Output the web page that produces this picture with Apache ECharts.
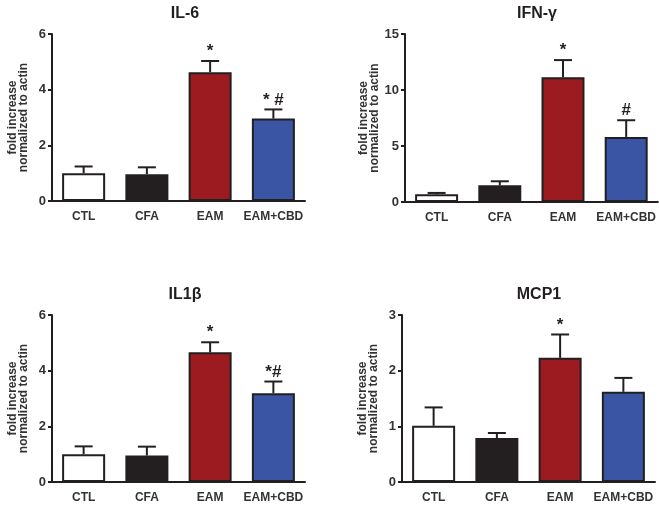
<!DOCTYPE html>
<html>
<head>
<meta charset="utf-8">
<script src="https://cdn.jsdelivr.net/npm/echarts@6/dist/echarts.min.js"></script>
<style>html,body{margin:0;padding:0;background:#fff;}#c{width:659px;height:506px;}</style>
</head>
<body>
<div id="c"></div>
<script>
var categories = ['CTL', 'CFA', 'EAM', 'EAM+CBD'];
var barColors = ['#ffffff', '#231f20', '#9b1b21', '#3a55a4'];

var titles = ['IL-6', 'IFN-\u03b3', 'IL1\u03b2', 'MCP1'];

var il6Mean = [1.00, 0.96, 4.63, 2.96];
var il6Sem = [0.24, 0.25, 0.40, 0.33];
var il6Marks = ['', '', '*', '* #'];

var ifnMean = [0.69, 1.49, 11.13, 5.81];
var ifnSem = [0.12, 0.36, 1.54, 1.49];
var ifnMarks = ['', '', '*', '#'];

var il1bMean = [1.00, 0.95, 4.66, 3.19];
var il1bSem = [0.28, 0.32, 0.36, 0.42];
var il1bMarks = ['', '', '*', '*#'];

var mcp1Mean = [1.01, 0.79, 2.23, 1.62];
var mcp1Sem = [0.33, 0.09, 0.42, 0.25];
var mcp1Marks = ['', '', '*', ''];

var yMax = [6, 15, 6, 3];
var yStep = [2, 5, 2, 1];

var panels = [
  {mean: il6Mean, sem: il6Sem, marks: il6Marks},
  {mean: ifnMean, sem: ifnSem, marks: ifnMarks},
  {mean: il1bMean, sem: il1bSem, marks: il1bMarks},
  {mean: mcp1Mean, sem: mcp1Sem, marks: mcp1Marks}
];

var FONT = 'Liberation Sans, Arial, Helvetica, sans-serif';
var INK = '#231f20';
var grids = [
  {left: 52, top: 34, width: 253, height: 167},
  {left: 405, top: 34, width: 253, height: 168},
  {left: 52, top: 315, width: 253, height: 167},
  {left: 402, top: 315, width: 253, height: 167}
];
var titlePos = [[180, 1], [532, 1], [180, 282], [534, 282]];

var option = {
  backgroundColor: '#ffffff',
  animation: false,
  title: [], grid: [], xAxis: [], yAxis: [], series: []
};

panels.forEach(function (p, i) {
  option.title.push({
    text: titles[i], left: titlePos[i][0], top: titlePos[i][1], textAlign: 'center',
    textStyle: {fontFamily: FONT, fontWeight: 'bold', fontSize: 16, color: INK}
  });
  option.grid.push({left: grids[i].left, top: grids[i].top, width: grids[i].width, height: grids[i].height});
  option.xAxis.push({
    type: 'category', gridIndex: i, data: categories,
    axisLine: {lineStyle: {color: INK, width: 2}},
    axisTick: {show: false},
    axisLabel: {fontFamily: FONT, fontWeight: 'bold', fontSize: 12, color: '#333', margin: 10, interval: 0}
  });
  option.yAxis.push({
    type: 'value', gridIndex: i, min: 0, max: yMax[i], interval: yStep[i],
    name: 'fold increase\nnormalized to actin', nameLocation: 'middle', nameGap: 23, nameRotate: 90,
    nameTextStyle: {fontFamily: FONT, fontWeight: 'bold', fontSize: 12, color: '#333', lineHeight: 11},
    axisLine: {show: true, lineStyle: {color: INK, width: 2}},
    axisTick: {show: true, length: 4, lineStyle: {color: INK, width: 2}},
    splitLine: {show: false},
    axisLabel: {fontFamily: FONT, fontWeight: 'bold', fontSize: 13, color: '#333', margin: 6}
  });
  option.series.push({
    type: 'bar', xAxisIndex: i, yAxisIndex: i, barWidth: '68%',
    data: p.mean.map(function (v, k) {
      return {value: v, itemStyle: {color: barColors[k], borderColor: INK, borderWidth: 2}};
    }),
    z: 2
  });
  option.series.push({
    type: 'custom', xAxisIndex: i, yAxisIndex: i, z: 3,
    data: p.mean.map(function (v, k) { return [k, v, v + p.sem[k], p.marks[k]]; }),
    renderItem: function (params, api) {
      var k = api.value(0);
      var lo = api.coord([k, api.value(1)]);
      var hi = api.coord([k, api.value(2)]);
      var mark = p.marks[k];
      var children = [
        {type: 'line', shape: {x1: lo[0], y1: lo[1], x2: hi[0], y2: hi[1]}, style: {stroke: INK, lineWidth: 2}},
        {type: 'line', shape: {x1: hi[0] - 9, y1: hi[1], x2: hi[0] + 9, y2: hi[1]}, style: {stroke: INK, lineWidth: 2}}
      ];
      if (mark) {
        children.push({type: 'text', style: {text: mark, x: hi[0], y: hi[1] - 1, textAlign: 'center', textVerticalAlign: 'bottom',
          font: 'bold 17px ' + FONT, fill: INK}});
      }
      return {type: 'group', children: children};
    }
  });
});

var chart = echarts.init(document.getElementById('c'), null, {renderer: 'canvas'});
chart.setOption(option);
</script>
</body>
</html>
